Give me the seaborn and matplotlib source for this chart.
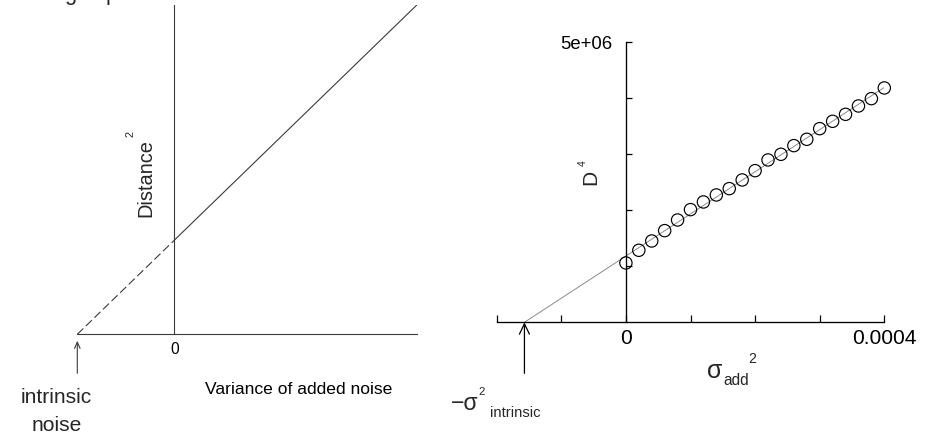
import numpy as np
import pandas as pd
import matplotlib
matplotlib.use("Agg")
import matplotlib.pyplot as plt
import seaborn as sns

# ---- data -------------------------------------------------------------
# schematic panel: extrapolated line through the intrinsic-noise point
schematic_x = [-1.0, 0.0, 2.5]
schematic_y = [0.0, 0.97, 3.395]

# measured panel: D^4 against added noise variance
sigma_add_sq = [0.0, 0.00002, 0.00004, 0.00006, 0.00008, 0.0001, 0.00012,
                0.00014, 0.00016, 0.00018, 0.0002, 0.00022, 0.00024, 0.00026,
                0.00028, 0.0003, 0.00032, 0.00034, 0.00036, 0.00038, 0.0004]
d4 = [1.060e6, 1.286e6, 1.452e6, 1.637e6, 1.827e6, 2.012e6, 2.149e6,
      2.274e6, 2.387e6, 2.542e6, 2.708e6, 2.899e6, 3.000e6, 3.155e6,
      3.268e6, 3.458e6, 3.589e6, 3.714e6, 3.863e6, 3.994e6, 4.185e6]

x_ticks = [-0.0002, -0.0001, 0.0, 0.0001, 0.0002, 0.0003, 0.0004]
x_tick_labels = ["", "", "0", "", "", "", "0.0004"]
y_ticks = [1e6, 2e6, 3e6, 4e6, 5e6]
y_tick_labels = ["", "", "", "", "5e+06"]

# ---- style ------------------------------------------------------------
sns.set_theme(style="ticks")
plt.rcParams["font.family"] = ["Liberation Sans", "DejaVu Sans"]
plt.rcParams["lines.scale_dashes"] = False

W, H, DPI = 935, 434, 100
fig = plt.figure(figsize=(W / DPI, H / DPI), dpi=DPI)
fig.patch.set_facecolor("white")


def fpos(x, y):
    """pixel position -> figure fraction"""
    return x / W, 1 - y / H


def pt(px):
    return px * 72 / DPI


# ---- left: schematic --------------------------------------------------
axL = fig.add_axes([77.3 / W, (H - 334.3) / H, (417 - 77.3) / W, (334.3 - 5) / H])
axL.set_facecolor("white")
axL.set_xlim(-1.0, 2.502)
axL.set_ylim(0, 3.395)
gray = "#3a3a3a"

seg = pd.DataFrame({"x": schematic_x, "y": schematic_y})
sns.lineplot(data=seg.iloc[:2], x="x", y="y", ax=axL, color=gray, lw=0.8,
             dashes=False, linestyle=(0, (6, 2.6)), sort=False, estimator=None)
sns.lineplot(data=seg.iloc[1:], x="x", y="y", ax=axL, color=gray, lw=0.8,
             sort=False, estimator=None)

for s in ["top", "right"]:
    axL.spines[s].set_visible(False)
axL.spines["left"].set_position(("data", 0))
axL.spines["left"].set_color(gray)
axL.spines["left"].set_linewidth(0.8)
axL.spines["bottom"].set_color(gray)
axL.spines["bottom"].set_linewidth(0.8)
# small break in the noise axis
axL.plot([-0.178, -0.108], [0, 0], color="white", lw=1.6, solid_capstyle="butt", clip_on=False)
axL.set_yticks([])
axL.set_xticks([0])
axL.set_xticklabels(["0"])
axL.tick_params(axis="x", length=0, pad=pt(7.5), labelsize=pt(15.5), colors="black")
axL.set_xlabel("Variance of added noise", fontsize=pt(17.5), color="black")
axL.xaxis.set_label_coords((299 - 77.3) / 339.7, (334.3 - 389) / 329.3)
axL.xaxis.label.set_va("center")
axL.set_ylabel("")

axL.annotate("", xy=(schematic_x[0], 0), xycoords="data",
             xytext=(0, -pt(39)), textcoords="offset points",
             arrowprops=dict(arrowstyle="->,head_length=0.45,head_width=0.2",
                             mutation_scale=10, color=gray, lw=0.8,
                             shrinkA=0, shrinkB=pt(6.5)),
             annotation_clip=False)

fig.text(*fpos(56, 403), "intrinsic", ha="center", va="baseline", fontsize=pt(21))
fig.text(*fpos(57, 431), "noise", ha="center", va="baseline", fontsize=pt(21))

fig.text(*fpos(151.7, 217), "Distance", rotation=90, rotation_mode="anchor",
         ha="left", va="baseline", fontsize=pt(20))
fig.text(*fpos(134, 137), "2", rotation=90, rotation_mode="anchor",
         ha="left", va="baseline", fontsize=pt(11))

# fragments of the heading above the panels
fig.text(*fpos(70, 0), "g", ha="center", va="baseline", fontsize=pt(22))
fig.text(*fpos(106, 0), "p", ha="left", va="baseline", fontsize=pt(22))

# ---- right: measured D^4 ---------------------------------------------
axR = fig.add_axes([496.7 / W, (H - 322.3) / H, (884.3 - 496.7) / W, (322.3 - 42.3) / H])
axR.set_facecolor("white")
axR.set_xlim(-0.0002, 0.0004)
axR.set_ylim(0, 5e6)

slope, icpt = np.polyfit(sigma_add_sq, d4, 1)
root = -icpt / slope
fit = pd.DataFrame({"x": [root, sigma_add_sq[-1]]})
fit["y"] = slope * fit["x"] + icpt
sns.lineplot(data=fit, x="x", y="y", ax=axR, color="#8a8a8a", lw=0.7,
             sort=False, estimator=None)

pts = pd.DataFrame({"s2": sigma_add_sq, "d4": d4})
sns.scatterplot(data=pts, x="s2", y="d4", ax=axR, s=pt(12.3) ** 2,
                facecolor="none", edgecolor="black", linewidth=0.85,
                clip_on=False, zorder=4)

for s in ["top", "right"]:
    axR.spines[s].set_visible(False)
axR.spines["left"].set_position(("data", 0))
for s in ["left", "bottom"]:
    axR.spines[s].set_color("black")
    axR.spines[s].set_linewidth(0.95)

axR.set_xticks(x_ticks)
axR.set_xticklabels(x_tick_labels)
axR.set_yticks(y_ticks)
axR.set_yticklabels(y_tick_labels)
axR.tick_params(axis="x", direction="in", length=pt(7.5), width=0.9, pad=pt(7),
                labelsize=pt(21), colors="black")
axR.tick_params(axis="y", direction="in", length=pt(6), width=0.9, pad=pt(14),
                labelsize=pt(18.5), colors="black")
axR.set_xlabel("")
axR.set_ylabel("")

axR.annotate("", xy=(root, 0), xycoords="data",
             xytext=(0, -pt(51)), textcoords="offset points",
             arrowprops=dict(arrowstyle="->,head_length=0.75,head_width=0.36",
                             mutation_scale=10, color="black", lw=0.9,
                             shrinkA=0, shrinkB=0),
             annotation_clip=False)

# sigma_add^2 axis label
fig.text(*fpos(707, 378), "σ", ha="left", va="baseline", fontsize=pt(25))
fig.text(*fpos(723, 385), "add", ha="left", va="baseline", fontsize=pt(15.5))
fig.text(*fpos(748, 363), "2", ha="left", va="baseline", fontsize=pt(14))

# D^4 axis label
fig.text(*fpos(596.7, 185), "D", rotation=90, rotation_mode="anchor",
         ha="left", va="baseline", fontsize=pt(21))
fig.text(*fpos(585.5, 166), "4", rotation=90, rotation_mode="anchor",
         ha="left", va="baseline", fontsize=pt(10.5))

# -sigma^2_intrinsic label under the arrow
fig.text(*fpos(451, 410), "−σ", ha="left", va="baseline", fontsize=pt(23))
fig.text(*fpos(478.5, 395), "2", ha="left", va="baseline", fontsize=pt(11.5))
fig.text(*fpos(490, 417), "intrinsic", ha="left", va="baseline", fontsize=pt(14.8))

fig.savefig("out.png", dpi=DPI, facecolor="white")
